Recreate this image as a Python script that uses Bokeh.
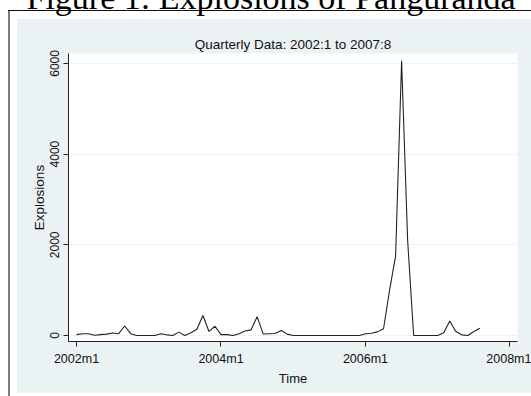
from bokeh.plotting import figure
from bokeh.models import Range1d, FixedTicker, Title, ColumnDataSource
from bokeh.embed import file_html
from bokeh.resources import INLINE

# ---- data -------------------------------------------------------------
start_year = 2002
n_months = 68  # 2002m1 .. 2007m8
month_index = list(range(n_months))
month_labels = [f"{start_year + i // 12}m{i % 12 + 1}" for i in month_index]

explosions = [
    20, 40, 40, 5, 20, 30, 55, 40, 210, 40,      # 2002m1 - 2002m10
    0, 0, 0, 0, 40, 15, 0, 75, 0, 60,            # 2002m11 - 2003m8
    140, 440, 90, 205, 20, 20, 0, 40, 100, 125,  # 2003m9 - 2004m6
    415, 35, 40, 45, 110, 30, 0, 0, 0, 0,        # 2004m7 - 2005m4
    0, 0, 0, 0, 0, 0, 0, 0, 40, 50,              # 2005m5 - 2006m2
    80, 150, 1000, 1750, 6060, 2100, 0, 0, 0, 0, # 2006m3 - 2006m12
    0, 60, 320, 90, 15, 0, 90, 160,              # 2007m1 - 2007m8
]

x_tick_values = [0, 24, 48, 72]
x_tick_labels = ["2002m1", "2004m1", "2006m1", "2008m1"]
y_tick_values = [0, 2000, 4000, 6000]

title_text = "Figure 1: Explosions of Panguranda"
subtitle_text = "Quarterly Data: 2002:1 to 2007:8"

# ---- styling constants --------------------------------------------------
BG = "#EAF2F3"
INK = "#222222"
TXT = "#111111"
FONT = "Liberation Sans"
FRAME_GRAY = "#7a7a7a"

WIN_W, WIN_H = 531, 396
T = 60                      # canvas starts T px above the window (title is cut off)
W, H = WIN_W, WIN_H + T
FL, FR, FT, FB = 68, 517, 53 + T, 341 + T   # frame edges in canvas px

# page decorations painted behind the (transparent) canvas border
page_styles = {
    "background-color": "white",
    "background-image": (f"linear-gradient({TXT},{TXT}), "
                         f"linear-gradient({FRAME_GRAY},{FRAME_GRAY}), "
                         f"linear-gradient({BG},{BG})"),
    "background-size": f"{WIN_W - 8}px 1.3px, 2px {WIN_H - 10}px, {WIN_W - 17}px {393 - 19}px",
    "background-position": f"8px {10 + T}px, 8px {10 + T}px, 17px {19 + T}px",
    "background-repeat": "no-repeat",
}

p = figure(
    width=W, height=H, title=None,
    output_backend="svg", toolbar_location=None,
    x_range=Range1d(-1.33, 73.25), y_range=Range1d(-132, 6218),
    min_border_left=FL, min_border_right=W - FR,
    min_border_top=FT, min_border_bottom=H - FB,
    background_fill_color="white",
    border_fill_color="white", border_fill_alpha=0,
    outline_line_color=None,
    margin=(-T, 0, 0, 0),
    styles=page_styles,
)

p.add_layout(Title(text=subtitle_text, align="center", text_font=FONT,
                   text_font_size="13.5px", text_font_style="normal",
                   text_color=TXT, standoff=3), "above")
p.add_layout(Title(text=title_text, align="left", offset=-42,
                   text_font="Liberation Serif", text_font_size="34px",
                   text_font_style="normal", text_color="black",
                   standoff=36), "above")

src = ColumnDataSource(dict(x=month_index, y=explosions, label=month_labels))
p.line("x", "y", source=src, line_color=INK, line_width=1.1)

# grid
p.xgrid.visible = False
p.ygrid.ticker = FixedTicker(ticks=y_tick_values)
p.ygrid.grid_line_color = BG
p.ygrid.grid_line_width = 1

# x axis
xa = p.xaxis[0]
xa.ticker = FixedTicker(ticks=x_tick_values)
xa.major_label_overrides = {v: s for v, s in zip(x_tick_values, x_tick_labels)}
xa.minor_tick_line_color = None
xa.major_tick_out = 5
xa.major_tick_in = 0
xa.axis_line_color = INK
xa.major_tick_line_color = INK
xa.major_label_text_font = FONT
xa.major_label_text_font_size = "12.5px"
xa.major_label_text_color = TXT
xa.major_label_standoff = 5
xa.axis_label = "Time"
xa.axis_label_text_font = FONT
xa.axis_label_text_font_style = "normal"
xa.axis_label_text_font_size = "13px"
xa.axis_label_text_color = TXT
xa.axis_label_standoff = 2

# y axis
ya = p.yaxis[0]
ya.ticker = FixedTicker(ticks=y_tick_values)
ya.minor_tick_line_color = None
ya.major_tick_out = 5
ya.major_tick_in = 0
ya.axis_line_color = INK
ya.major_tick_line_color = INK
ya.major_label_orientation = "parallel"
ya.major_label_text_font = FONT
ya.major_label_text_font_size = "12px"
ya.major_label_text_color = TXT
ya.major_label_standoff = 4
ya.axis_label = "Explosions"
ya.axis_label_text_font = FONT
ya.axis_label_text_font_style = "normal"
ya.axis_label_text_font_size = "13.5px"
ya.axis_label_text_color = TXT
ya.axis_label_standoff = 1

open("out.html", "w").write(file_html(p, INLINE))
